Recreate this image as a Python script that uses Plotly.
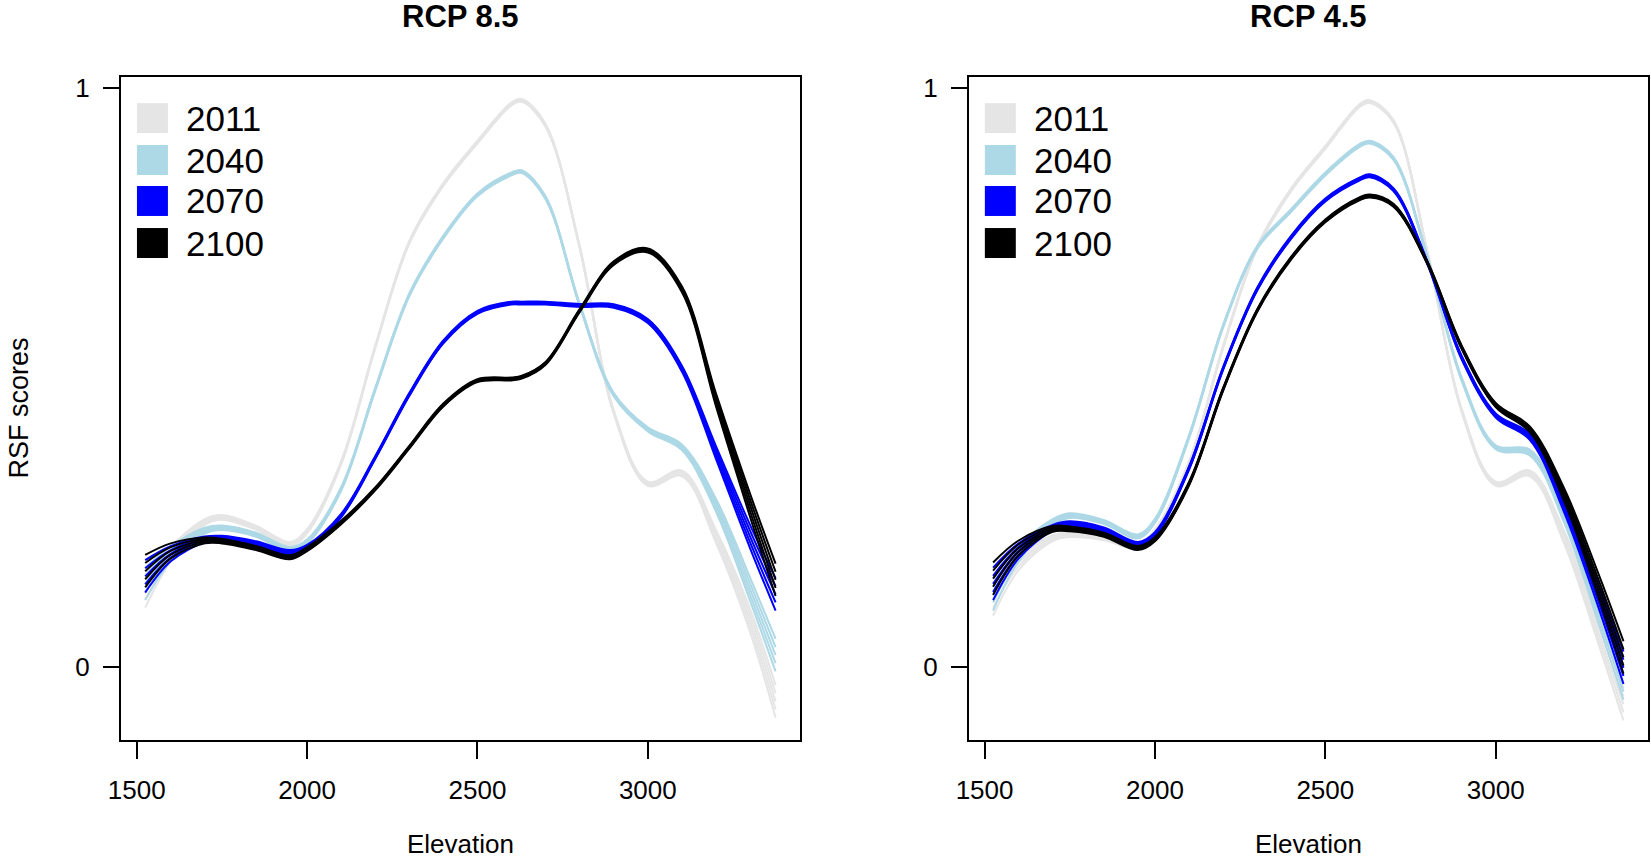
import plotly.graph_objects as go

ELEV = [1525, 1600, 1700, 1750, 1850, 1950, 2000, 2100, 2200, 2300, 2400, 2500, 2600, 2630, 2700, 2800, 2900, 3000, 3100, 3200, 3300, 3375]

YEARS = ["2011", "2040", "2070", "2100"]
COLORS = ["#E5E5E5", "#ADD8E6", "#0000FF", "#000000"]

# RCP 8.5 (left panel)
R85_2011 = [0.130, 0.195, 0.250, 0.258, 0.240, 0.212, 0.234, 0.352, 0.552, 0.733, 0.833, 0.906, 0.972, 0.978, 0.935, 0.725, 0.440, 0.316, 0.334, 0.225, 0.080, -0.060]
R85_2040 = [0.143, 0.195, 0.235, 0.240, 0.228, 0.203, 0.216, 0.307, 0.479, 0.642, 0.742, 0.815, 0.851, 0.855, 0.810, 0.625, 0.470, 0.410, 0.379, 0.279, 0.134, 0.020]
R85_2070 = [0.156, 0.195, 0.220, 0.222, 0.213, 0.198, 0.207, 0.261, 0.361, 0.470, 0.561, 0.612, 0.628, 0.628, 0.628, 0.624, 0.623, 0.597, 0.515, 0.370, 0.225, 0.125]
R85_2100 = [0.165, 0.200, 0.218, 0.217, 0.205, 0.189, 0.203, 0.249, 0.307, 0.379, 0.452, 0.494, 0.497, 0.500, 0.524, 0.615, 0.697, 0.719, 0.652, 0.461, 0.279, 0.150]

# RCP 4.5 (right panel)
R45_2011 = [0.116, 0.180, 0.222, 0.228, 0.222, 0.207, 0.234, 0.352, 0.552, 0.724, 0.824, 0.897, 0.969, 0.976, 0.942, 0.715, 0.443, 0.316, 0.334, 0.225, 0.062, -0.065]
R45_2040 = [0.125, 0.195, 0.250, 0.261, 0.250, 0.225, 0.252, 0.397, 0.588, 0.724, 0.788, 0.851, 0.900, 0.906, 0.878, 0.706, 0.497, 0.379, 0.370, 0.261, 0.098, -0.029]
R45_2070 = [0.143, 0.200, 0.240, 0.247, 0.237, 0.212, 0.229, 0.343, 0.515, 0.652, 0.742, 0.806, 0.842, 0.848, 0.824, 0.697, 0.534, 0.434, 0.397, 0.279, 0.125, -0.002]
R45_2100 = [0.152, 0.205, 0.238, 0.238, 0.228, 0.205, 0.220, 0.316, 0.479, 0.615, 0.706, 0.770, 0.808, 0.813, 0.797, 0.697, 0.552, 0.452, 0.410, 0.298, 0.143, 0.016]

# half-width of the bundle of model lines around each curve
SPREAD = [0.028, 0.013, 0.005, 0.004, 0.0035, 0.0035, 0.0035, 0.003, 0.0025, 0.0025, 0.0025, 0.0025, 0.0025, 0.0025, 0.0025, 0.0025, 0.003, 0.0035, 0.005, 0.011, 0.020, 0.028]
OFFSETS = [-1.0, -0.5, 0.0, 0.5, 1.0]

PANELS = [("RCP 8.5", [R85_2011, R85_2040, R85_2070, R85_2100]),
          ("RCP 4.5", [R45_2011, R45_2040, R45_2070, R45_2100])]

X_TICKS = [1500, 2000, 2500, 3000]
Y_TICKS = [0, 1]

FONT = "Liberation Sans, Arial, Helvetica, sans-serif"

fig = go.Figure()
for p, (title, series) in enumerate(PANELS):
    xa = "x" if p == 0 else "x2"
    ya = "y" if p == 0 else "y2"
    for vals, col, yr in zip(series, COLORS, YEARS):
        for k in OFFSETS:
            fig.add_trace(go.Scatter(
                x=ELEV, y=[v + k * s for v, s in zip(vals, SPREAD)],
                mode="lines", line=dict(color=col, width=2, shape="spline", smoothing=1.0),
                xaxis=xa, yaxis=ya, showlegend=False, hoverinfo="skip"))

W, H = 1651, 862
L, R, T, B = 121, 1, 77, 122
pw = W - L - R
d1 = [0, 680 / pw]
d2 = [849 / pw, 1]

axis_common = dict(showline=True, linecolor="black", linewidth=2, mirror=True,
                   ticks="outside", tickcolor="black", tickwidth=1.5,
                   showgrid=False, zeroline=False,
                   tickfont=dict(family=FONT, size=26, color="black"))

xr = [1454, 3447]
yr_ = [-0.1266, 1.0185]

fig.update_layout(
    width=W, height=H,
    margin=dict(l=L, r=R, t=T, b=B),
    plot_bgcolor="white", paper_bgcolor="white",
    xaxis=dict(domain=d1, range=xr, tickvals=X_TICKS, ticklen=17, ticklabelstandoff=9, anchor="y", **axis_common),
    yaxis=dict(domain=[0, 1], range=yr_, tickvals=Y_TICKS, ticklen=16, ticklabelstandoff=8, anchor="x", **axis_common),
    xaxis2=dict(domain=d2, range=xr, tickvals=X_TICKS, ticklen=17, ticklabelstandoff=9, anchor="y2", **axis_common),
    yaxis2=dict(domain=[0, 1], range=yr_, tickvals=Y_TICKS, ticklen=16, ticklabelstandoff=8, anchor="x2", **axis_common),
    showlegend=False,
)

annotations = []
shapes = []
row_y = [0.938, 0.8748, 0.813, 0.7496]
for p, (title, series) in enumerate(PANELS):
    xd = "x domain" if p == 0 else "x2 domain"
    yd = "y domain" if p == 0 else "y2 domain"
    # panel title
    annotations.append(dict(text="<b>" + title + "</b>", xref=xd, yref="paper", x=0.5, y=1,
                            yshift=61, xanchor="center", yanchor="middle", showarrow=False,
                            font=dict(family=FONT, size=31, color="black")))
    # x axis title
    annotations.append(dict(text="Elevation", xref=xd, yref="paper", x=0.5, y=0,
                            yshift=-104, xanchor="center", yanchor="middle", showarrow=False,
                            borderpad=0, font=dict(family=FONT, size=26, color="black")))
    # legend
    for yy, col, yrs in zip(row_y, COLORS, YEARS):
        shapes.append(dict(type="rect", xref=xd, yref=yd, x0=0.0235, x1=0.0691,
                           y0=yy - 0.0226, y1=yy + 0.0226, fillcolor=col, line=dict(width=0)))
        annotations.append(dict(text=yrs, xref=xd, yref=yd, x=0.0926, y=yy,
                                xanchor="left", yanchor="middle", showarrow=False,
                                font=dict(family=FONT, size=35, color="black")))

annotations.append(dict(text="RSF scores", xref="paper", yref="paper", x=0, y=0.5,
                        xshift=-103, textangle=-90, xanchor="center", yanchor="middle",
                        borderpad=0, showarrow=False, font=dict(family=FONT, size=27, color="black")))

fig.update_layout(annotations=annotations, shapes=shapes)
fig.write_html("out.html", config={"displayModeBar": False},
               post_script="document.body.style.margin='0';document.body.style.padding='0';document.body.style.overflow='hidden';")
